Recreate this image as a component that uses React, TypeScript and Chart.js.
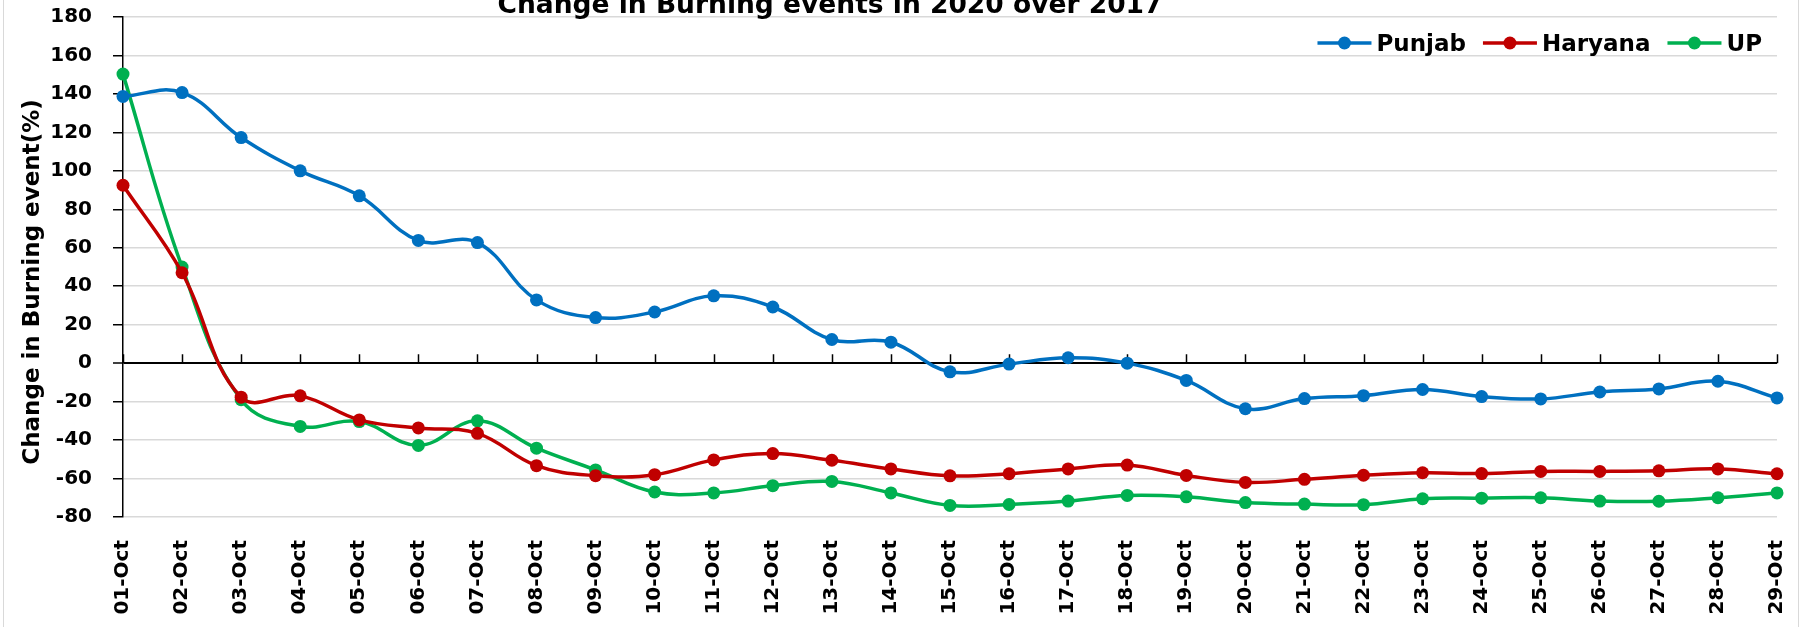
import React, { useEffect, useRef } from 'react';
import { Chart, registerables } from 'chart.js';

Chart.register(...registerables);

const categories = [
  '01-Oct', '02-Oct', '03-Oct', '04-Oct', '05-Oct', '06-Oct', '07-Oct', '08-Oct', '09-Oct', '10-Oct',
  '11-Oct', '12-Oct', '13-Oct', '14-Oct', '15-Oct', '16-Oct', '17-Oct', '18-Oct', '19-Oct', '20-Oct',
  '21-Oct', '22-Oct', '23-Oct', '24-Oct', '25-Oct', '26-Oct', '27-Oct', '28-Oct', '29-Oct',
];

const punjab = [
  138.7, 140.7, 117.3, 100, 87, 63.8, 62.7, 32.9, 23.7, 26.6,
  35, 29.2, 12.3, 10.9, -4.5, -0.5, 2.8, 0, -9, -23.7,
  -18.4, -16.9, -13.7, -17.4, -18.6, -15, -13.4, -9.4, -18.1,
];

const haryana = [
  92.5, 47, -17.7, -17, -29.5, -33.7, -36.5, -53.3, -58.5, -58,
  -50.3, -47, -50.5, -55, -58.6, -57.5, -55, -53, -58.4, -62,
  -60.4, -58.3, -57, -57.4, -56.3, -56.3, -56, -55, -57.5,
];

const up = [
  150.3, 50, -19, -32.9, -30.4, -42.8, -30, -44.2, -55.5, -67,
  -67.5, -63.7, -61.5, -67.5, -74, -73.5, -71.7, -68.8, -69.5, -72.5,
  -73.3, -73.6, -70.5, -70.2, -70, -71.7, -71.8, -70, -67.5,
];

const seriesNames = ['Punjab', 'Haryana', 'UP'];
const seriesColors = ['#0070C0', '#C00000', '#00B050'];
const yMin = -80;
const yMax = 180;
const yStep = 20;
const chartTitle = 'Change in Burning events in 2020 over 2017';
const yAxisTitle = 'Change in Burning event(%)';

const FONT = '"DejaVu Sans", sans-serif';

const overlayPlugin = {
  id: 'overlay',
  beforeDatasetsDraw(chart: any) {
    const ctx = chart.ctx;
    const xs = chart.scales.x;
    const ys = chart.scales.y;
    const y0 = ys.getPixelForValue(0);
    ctx.save();
    ctx.strokeStyle = '#000';
    ctx.lineWidth = 1.5;
    ctx.beginPath();
    for (let i = 0; i < categories.length; i++) {
      const px = Math.round(xs.getPixelForValue(i)) + 0.5;
      ctx.moveTo(px, y0);
      ctx.lineTo(px, y0 - 9);
    }
    ctx.stroke();
    ctx.restore();
  },
  afterDraw(chart: any) {
    const ctx = chart.ctx;
    ctx.save();
    // outer chart border
    ctx.strokeStyle = '#d9d9d9';
    ctx.lineWidth = 1;
    ctx.strokeRect(3.5, -5, 1795, 640);

    // title (partly cut at top like the reference)
    ctx.fillStyle = '#000';
    ctx.font = `bold 26.5px ${FONT}`;
    ctx.textAlign = 'center';
    ctx.textBaseline = 'alphabetic';
    ctx.fillText(chartTitle, 830, 12.5);

    // y-axis title
    ctx.save();
    ctx.font = `bold 23px ${FONT}`;
    ctx.translate(39, 282);
    ctx.rotate(-Math.PI / 2);
    ctx.textAlign = 'center';
    ctx.fillText(yAxisTitle, 0, 0);
    ctx.restore();

    // legend
    ctx.font = `bold 23px ${FONT}`;
    ctx.textAlign = 'left';
    const lineW = 54;
    const gapText = 5;
    const gapItem = 17;
    const widths = seriesNames.map((n) => ctx.measureText(n).width);
    let total = 0;
    widths.forEach((w, i) => {
      total += lineW + gapText + w + (i < widths.length - 1 ? gapItem : 0);
    });
    let cx = 1762 - total;
    const cy = 43;
    seriesNames.forEach((name, i) => {
      ctx.strokeStyle = seriesColors[i];
      ctx.lineWidth = 3.5;
      ctx.beginPath();
      ctx.moveTo(cx, cy);
      ctx.lineTo(cx + lineW, cy);
      ctx.stroke();
      ctx.fillStyle = seriesColors[i];
      ctx.beginPath();
      ctx.arc(cx + lineW / 2, cy, 6.5, 0, Math.PI * 2);
      ctx.fill();
      ctx.fillStyle = '#000';
      ctx.fillText(name, cx + lineW + gapText, 50.7);
      cx += lineW + gapText + widths[i] + gapItem;
    });
    ctx.restore();
  },
};

export default function App() {
  const canvasRef = useRef<HTMLCanvasElement | null>(null);

  useEffect(() => {
    document.body.style.margin = '0';
    const canvas = canvasRef.current;
    if (!canvas) return;
    const seriesData = [punjab, haryana, up];
    const chart = new Chart(canvas, {
      type: 'line',
      data: {
        labels: categories,
        datasets: seriesNames.map((name, i) => ({
          label: name,
          data: seriesData[i],
          borderColor: seriesColors[i],
          backgroundColor: seriesColors[i],
          pointBackgroundColor: seriesColors[i],
          pointBorderColor: seriesColors[i],
          pointBorderWidth: 0,
          pointRadius: 6.5,
          borderWidth: 3.5,
          tension: 0.4,
          fill: false,
          clip: false as any,
        })),
      },
      options: {
        responsive: false,
        animation: false,
        devicePixelRatio: 1,
        layout: { padding: { top: 17, right: 26, left: 0, bottom: 0 } },
        plugins: {
          legend: { display: false },
          title: { display: false },
          tooltip: { enabled: false },
        },
        scales: {
          x: {
            type: 'category',
            offset: false,
            grid: { display: false, drawTicks: false },
            border: { display: false },
            ticks: {
              autoSkip: false,
              maxRotation: 90,
              minRotation: 90,
              padding: 23,
              color: '#000',
              font: { family: FONT, size: 20, weight: 'bold' },
            },
            afterFit: (s: any) => {
              s.height = 110;
              s.paddingLeft = 0;
              s.paddingRight = 0;
            },
          },
          y: {
            min: yMin,
            max: yMax,
            ticks: {
              stepSize: yStep,
              padding: 21,
              color: '#000',
              font: { family: FONT, size: 20, weight: 'bold' },
            },
            grid: {
              color: (c: any) => (c.tick && c.tick.value === 0 ? '#000' : '#d9d9d9'),
              lineWidth: (c: any) => (c.tick && c.tick.value === 0 ? 2 : 1.5),
              tickColor: '#000',
              tickLength: 10,
              tickWidth: 1.5,
            },
            border: { color: '#000', width: 1.5 },
            afterFit: (s: any) => {
              s.width = 123;
              s.paddingTop = 0;
              s.paddingBottom = 0;
            },
          },
        },
      } as any,
      plugins: [overlayPlugin],
    });
    return () => chart.destroy();
  }, []);

  return (
    <div style={{ width: 1803, height: 627 }}>
      <canvas ref={canvasRef} width={1803} height={627} style={{ display: 'block', width: 1803, height: 627 }} />
    </div>
  );
}
